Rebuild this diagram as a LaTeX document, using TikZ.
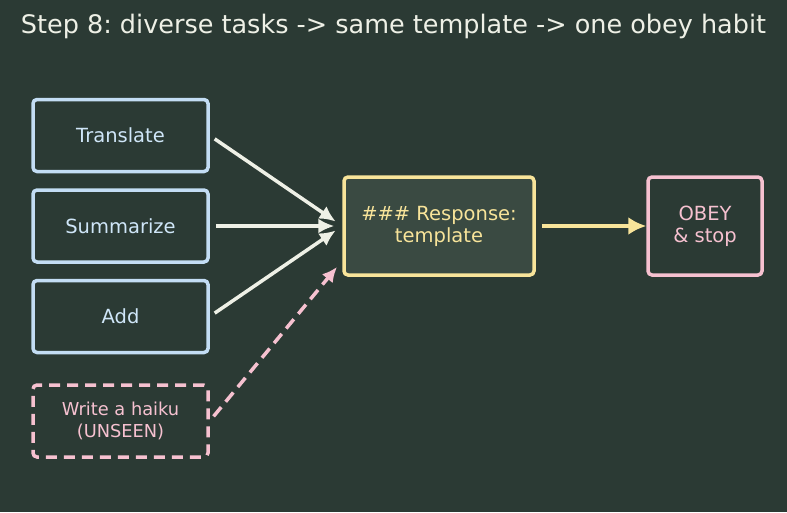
\documentclass[tikz,border=0pt]{standalone}
\usepackage{fontspec}
\setmainfont{DejaVu Sans}
\usepackage{xcolor}
\usetikzlibrary{arrows.meta}
\frenchspacing

\definecolor{bgcol}{HTML}{2B3A34}
\definecolor{taskcol}{HTML}{C3DDF4}
\definecolor{tasktxt}{HTML}{CFE6F8}
\definecolor{tmplcol}{HTML}{F8E49A}
\definecolor{tmplfill}{HTML}{3A4A42}
\definecolor{obeycol}{HTML}{F6C1D0}
\definecolor{arrowcol}{HTML}{EEF0E6}

\begin{document}
\begin{tikzpicture}[x=1pt, y=-1pt,
		taskbox/.style={draw=taskcol, line width=3.5pt, rounded corners=4pt, minimum width=175pt, minimum height=72pt, text=tasktxt, font=\fontsize{19.5}{22}\selectfont},
		unseenbox/.style={draw=obeycol, line width=3.5pt, dashed, dash pattern=on 11pt off 7pt, rounded corners=4pt, minimum width=175pt, minimum height=72pt, text=obeycol, align=center, font=\fontsize{17.8}{22}\selectfont},
		flow/.style={-{Latex[length=16pt,width=15pt]}, line width=3.5pt, draw=arrowcol}]
%		    \draw[help lines] (0,0) grid (787,512);
			\fill[bgcol] (0,0) rectangle (787,512);
			\useasboundingbox (0,0) rectangle (787,512);
			\node[text=arrowcol, font=\fontsize{25.5}{30}\selectfont] (title) at (393.5,26) {Step 8: diverse tasks -> same template -> one obey habit};
			\node[taskbox] (translate) at (120.5,135.5) {Translate};
			\node[taskbox] (summarize) at (120.5,226) {Summarize};
			\node[taskbox] (add) at (120.5,316.5) {Add};
			\node[unseenbox] (haiku) at (120.5,421) {Write a haiku\\(UNSEEN)};
			\node[draw=tmplcol, fill=tmplfill, line width=3.5pt, rounded corners=4pt, minimum width=190pt, minimum height=98pt, text=tmplcol, align=center, font=\fontsize{19.5}{22}\selectfont] (response) at (439,226) {\#\#\# Response:\\template};
			\node[draw=obeycol, line width=3.5pt, rounded corners=4pt, minimum width=114pt, minimum height=98pt, text=obeycol, align=center, font=\fontsize{19.5}{22}\selectfont] (obey) at (705,226) {OBEY\\\& stop};
			\coordinate (unseenin) at (337,267);
			\draw[flow, shorten <=6pt, shorten >=8pt] (translate.east) -- (response.west);
			\draw[flow, shorten <=6pt, shorten >=8pt] (summarize.east) -- (response.west);
			\draw[flow, shorten <=6pt, shorten >=8pt] (add.east) -- (response.west);
			\draw[-{Latex[length=15pt,width=14pt]}, line width=3.5pt, draw=obeycol, dashed, dash pattern=on 12pt off 7pt, shorten <=6pt] (haiku.east) -- (unseenin);
			\draw[-{Latex[length=18pt,width=18pt]}, line width=3.5pt, draw=tmplcol, shorten <=6pt, shorten >=0pt] (response.east) -- (obey.west);
		\end{tikzpicture}
\end{document}
